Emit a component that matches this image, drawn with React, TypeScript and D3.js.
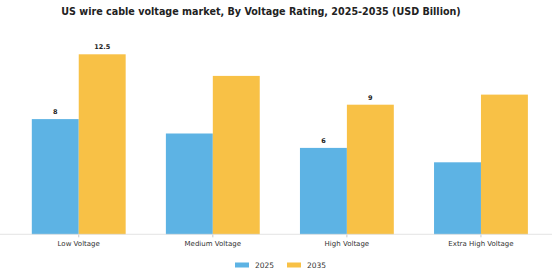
import React from "react";
import * as d3 from "d3";

const categories = ["Low Voltage", "Medium Voltage", "High Voltage", "Extra High Voltage"];
const seriesNames = ["2025", "2035"];
const values2025 = [8, 7, 6, 5];
const values2035 = [12.5, 11, 9, 9.7];
const labelled = [true, false, true, false];
const colors = ["#5DB3E4", "#F8C146"];

const W = 560, H = 280;
const baseline = 234.3;
const FONT = "DejaVu Sans, sans-serif";

export default function App() {
  const x = d3.scaleBand<string>().domain(categories).range([11.7, 548]).paddingInner(0.3).paddingOuter(0.15);
  const y = d3.scaleLinear().domain([0, 12.5]).range([baseline, 54.3]);
  const xs = d3.scaleBand<string>().domain(seriesNames).range([0, x.bandwidth()]);
  const series = [values2025, values2035];

  return (
    <svg width={W} height={H} style={{ position: "absolute", left: 0, top: 0, background: "#fff" }} fontFamily={FONT}>
      <text x={261} y={14.5} textAnchor="middle" fontWeight="bold" fontSize={9.6} fill="#222">
        US wire cable voltage market, By Voltage Rating, 2025-2035 (USD Billion)
      </text>
      {categories.map((c, i) => (
        <g key={c}>
          {series.map((vals, s) => (
            <rect key={s} x={x(c)! + xs(seriesNames[s])!} y={y(vals[i])} width={xs.bandwidth()} height={baseline - y(vals[i])} fill={colors[s]} />
          ))}
          {labelled[i] && series.map((vals, s) => (
            <text key={"l" + s} x={x(c)! + xs(seriesNames[s])! + xs.bandwidth() / 2} y={y(vals[i]) - 5} textAnchor="middle" fontWeight="bold" fontSize={6.5} fill="#222">
              {vals[i]}
            </text>
          ))}
          <line x1={x(c)! + x.bandwidth() / 2} x2={x(c)! + x.bandwidth() / 2} y1={baseline} y2={baseline + 3} stroke="#bbb" strokeWidth={0.8} />
          <text x={x(c)! + x.bandwidth() / 2} y={245.5} textAnchor="middle" fontSize={7} fill="#333">{c}</text>
        </g>
      ))}
      <line x1={0} x2={552} y1={baseline} y2={baseline} stroke="#ddd" strokeWidth={0.8} />
      {seriesNames.map((n, s) => (
        <g key={n} transform={`translate(${235 + s * 52},0)`}>
          <rect x={0} y={262.5} width={14} height={5} fill={colors[s]} />
          <text x={20} y={268} fontSize={7.5} fill="#333">{n}</text>
        </g>
      ))}
    </svg>
  );
}
